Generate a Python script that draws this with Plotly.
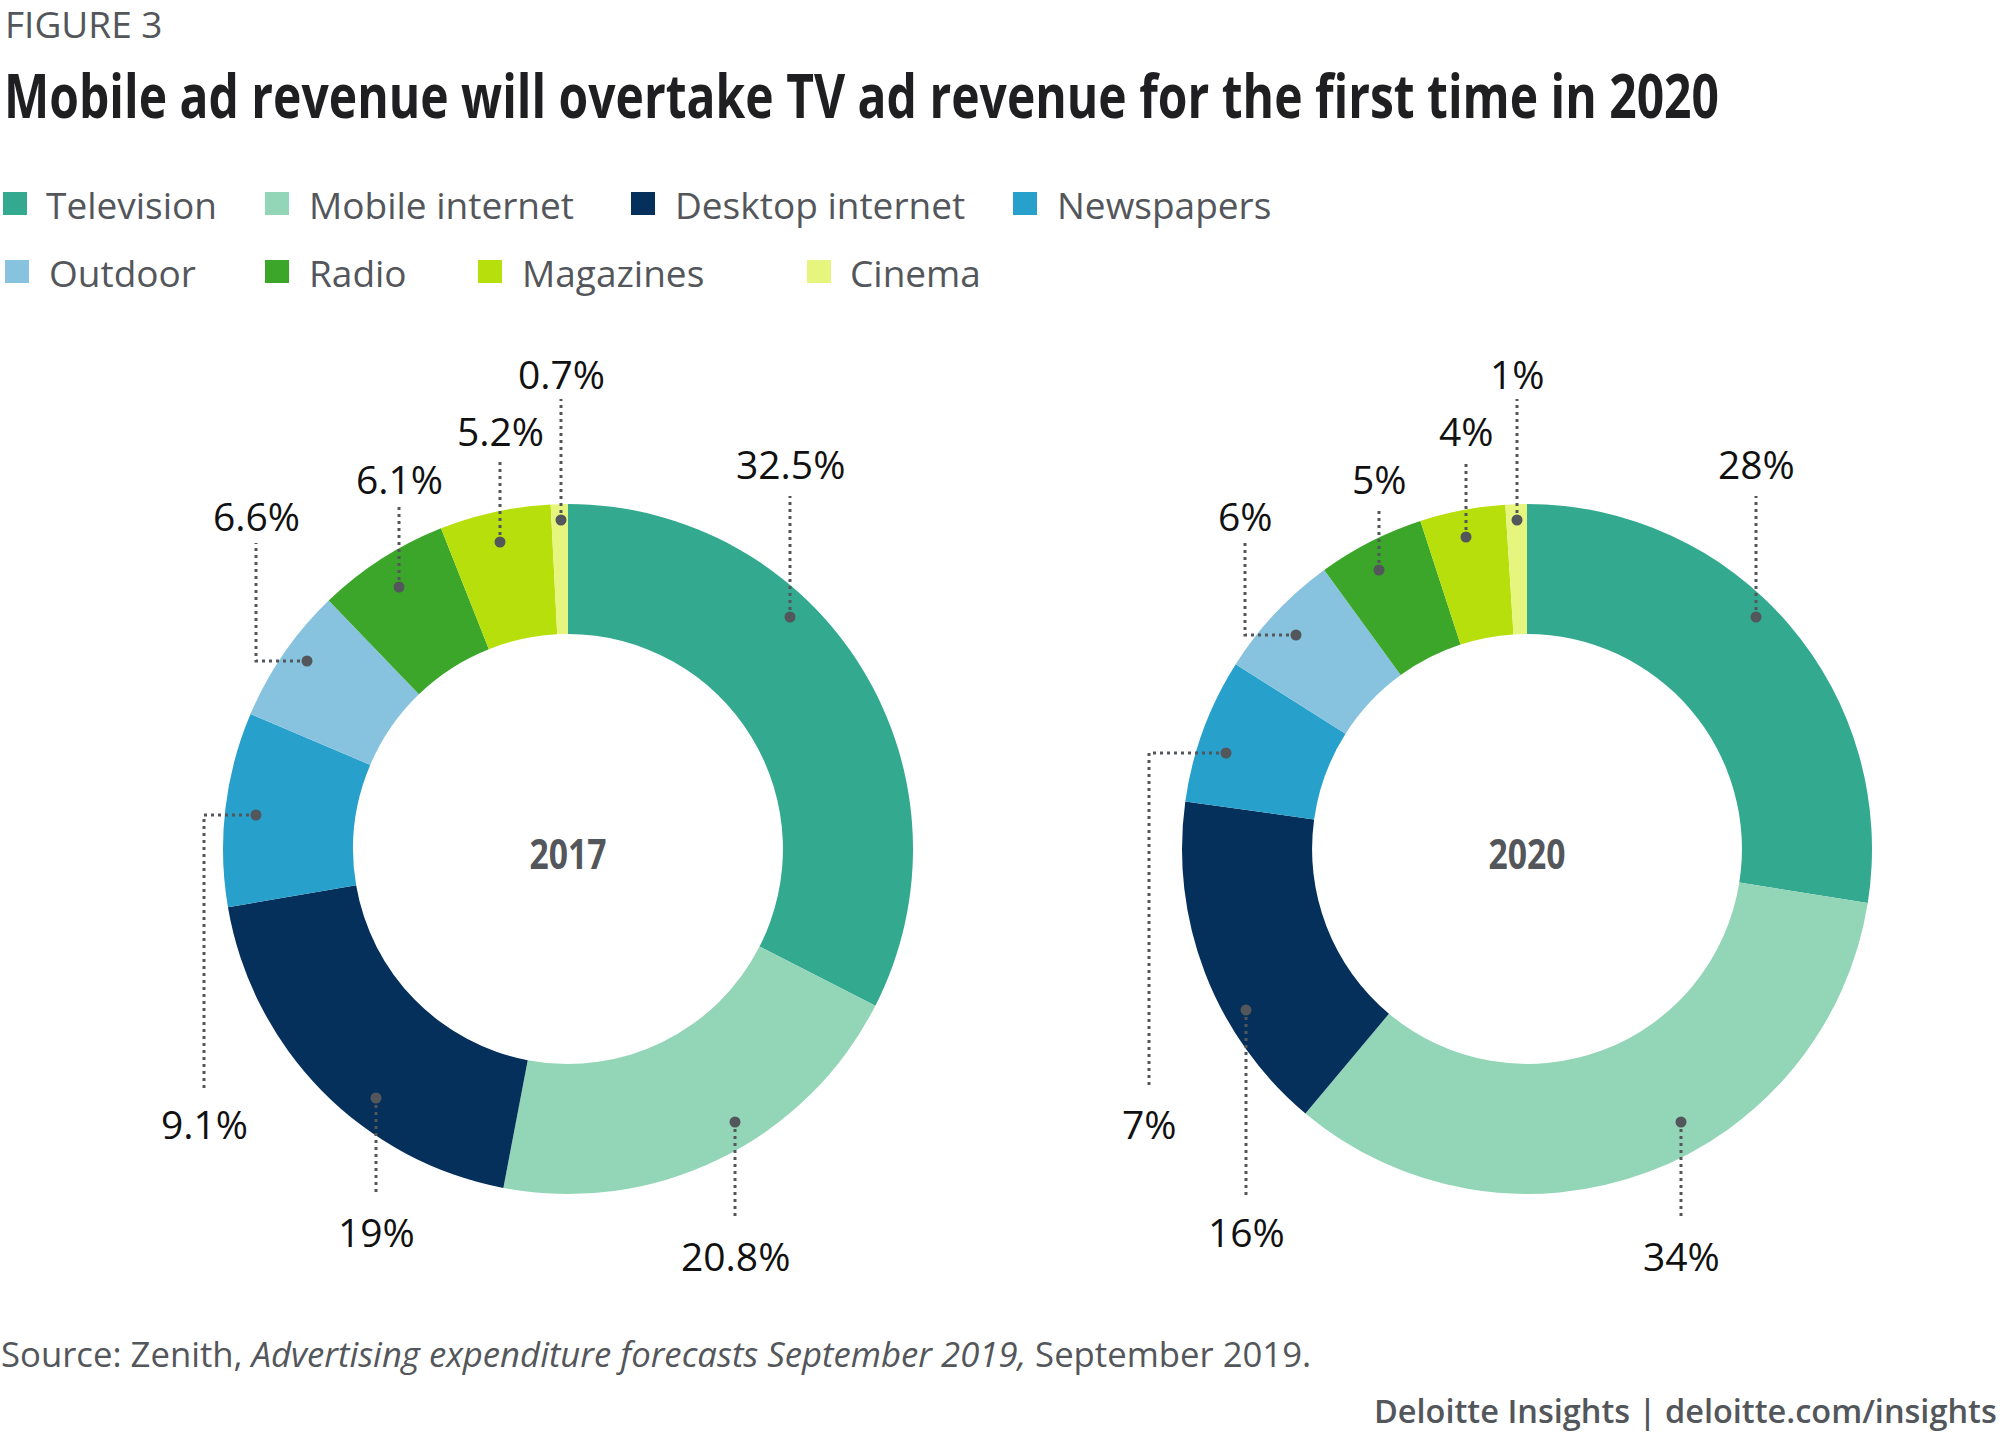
import plotly.graph_objects as go

W, H = 2000, 1449

# ----------------------------
# Data
# ----------------------------
categories = ["Television", "Mobile internet", "Desktop internet", "Newspapers",
              "Outdoor", "Radio", "Magazines", "Cinema"]
# slice shares as drawn; the printed labels are rounded
values_2017 = [32.5, 20.5, 19.3, 9.1, 6.4, 6.2, 5.2, 0.8]
values_2020 = [27.5, 33.6, 16.1, 6.8, 6, 5, 4, 1]
labels_2017 = ["32.5%", "20.8%", "19%", "9.1%", "6.6%", "6.1%", "5.2%", "0.7%"]
labels_2020 = ["28%", "34%", "16%", "7%", "6%", "5%", "4%", "1%"]

colors = ["#33A98F", "#93D5B7", "#05305B", "#27A0CB",
          "#87C3DE", "#3CA62A", "#B7DF0C", "#E6F57D"]

GREY = "#53565A"
BODY = "Open Sans"
TITLE = "Mobile ad revenue will overtake TV ad revenue for the first time in 2020"

# ----------------------------
# Layout positions (pixels)
# ----------------------------
# x of swatch, x of text, y centre
legend_pos = [(3, 45, 204), (265, 308, 204), (631, 674, 204), (1013, 1056, 204),
              (5, 48, 272), (265, 308, 272), (478, 521, 272), (807, 849, 272)]

# dot x, dot y, elbow x (or None), line end y, label y
leaders_2017 = [(790, 617, None, 496, 464), (735, 1122, None, 1220, 1255),
                (376, 1098, None, 1195, 1231), (256, 815, 204, 1089, 1123),
                (307, 661, 256, 543, 515), (399, 587, None, 507, 478),
                (500, 542, None, 460, 431), (561, 520, None, 399, 373)]
leaders_2020 = [(1756, 617, None, 496, 464), (1681, 1122, None, 1220, 1255),
                (1246, 1010, None, 1195, 1231), (1226, 753, 1149, 1089, 1123),
                (1296, 635, 1245, 543, 515), (1379, 570, None, 507, 478),
                (1466, 537, None, 460, 431), (1517, 520, None, 399, 373)]


def px(x):
    return x / W


def py(y):
    return 1 - y / H


def text(x, y, s, size, color=GREY, anchor="left", weight=None):
    fig.add_annotation(
        x=px(x), y=py(y), xref="paper", yref="paper", text=s, showarrow=False,
        xanchor=anchor, yanchor="middle", borderpad=0,
        font=dict(family=BODY, size=size, color=color, weight=weight),
    )


def donut(cx, values):
    r, cy = 345, 849
    return go.Pie(
        labels=categories, values=values, sort=False, direction="clockwise",
        rotation=0, hole=0.623, textinfo="none", showlegend=False, hoverinfo="skip",
        marker=dict(colors=colors, line=dict(width=0)),
        domain=dict(x=[px(cx - r), px(cx + r)], y=[py(cy + r), py(cy - r)]),
    )


fig = go.Figure()
fig.add_trace(donut(568, values_2017))
fig.add_trace(donut(1527, values_2020))

# ----------------------------
# Leaders and value labels
# ----------------------------
for leaders, labels in [(leaders_2017, labels_2017), (leaders_2020, labels_2020)]:
    for (dx, dy, elbow, end, ly), lab in zip(leaders, labels):
        lx = dx if elbow is None else elbow
        path = f"M{px(dx)},{py(dy)} L{px(lx)},{py(dy)} L{px(lx)},{py(end)}"
        fig.add_shape(type="path", path=path, xref="paper", yref="paper", layer="above",
                      line=dict(color=GREY, width=3, dash="3px,4px"))
        fig.add_shape(type="circle", xref="paper", yref="paper", layer="above",
                      x0=px(dx - 5.5), x1=px(dx + 5.5), y0=py(dy + 5.5), y1=py(dy - 5.5),
                      line=dict(width=0), fillcolor=GREY)
        text(lx, ly, lab, 39, color="#111111", anchor="center")

text(568, 852, "2017", 42, anchor="center", weight=700)
text(1527, 852, "2020", 42, anchor="center", weight=700)

# ----------------------------
# Legend
# ----------------------------
for name, color, (sx, tx, y) in zip(categories, colors, legend_pos):
    fig.add_shape(type="rect", xref="paper", yref="paper", layer="above",
                  x0=px(sx), x1=px(sx + 24), y0=py(y + 11), y1=py(y - 12),
                  line=dict(width=0), fillcolor=color)
    text(tx, y, name, 37)

# ----------------------------
# Titles and notes
# ----------------------------
text(4, 24, "FIGURE 3", 37)
# starts smaller so the unsqueezed text fits the page, see SQUEEZE
text(861.5, 99, TITLE, 48, color="#1F1F22", anchor="center", weight=700)
text(0, 1353, "Source: Zenith, <i>Advertising expenditure forecasts September 2019,</i> September 2019.", 34.7)
text(1998, 1410, "Deloitte Insights | deloitte.com/insights", 32.5, anchor="right", weight=600)

fig.update_layout(
    width=W, height=H,
    paper_bgcolor="white", plot_bgcolor="white",
    margin=dict(l=0, r=0, t=0, b=0),
    showlegend=False,
)

# no condensed face installed, so squeeze the bold headings to their widths
SQUEEZE = """
document.body.style.margin = '0';
var widths = {'TITLE_TEXT': [1715, 60], '2017': [77, 42], '2020': [77, 42]};
document.querySelectorAll('.annotation-text').forEach(function (el) {
    var w = widths[el.textContent];
    if (w) {
        el.style.fontSize = w[1] + 'px';
        el.setAttribute('textLength', w[0]);
        el.setAttribute('lengthAdjust', 'spacingAndGlyphs');
    }
});
""".replace("TITLE_TEXT", TITLE)

fig.write_html("out.html", post_script=SQUEEZE, config=dict(displayModeBar=False))
